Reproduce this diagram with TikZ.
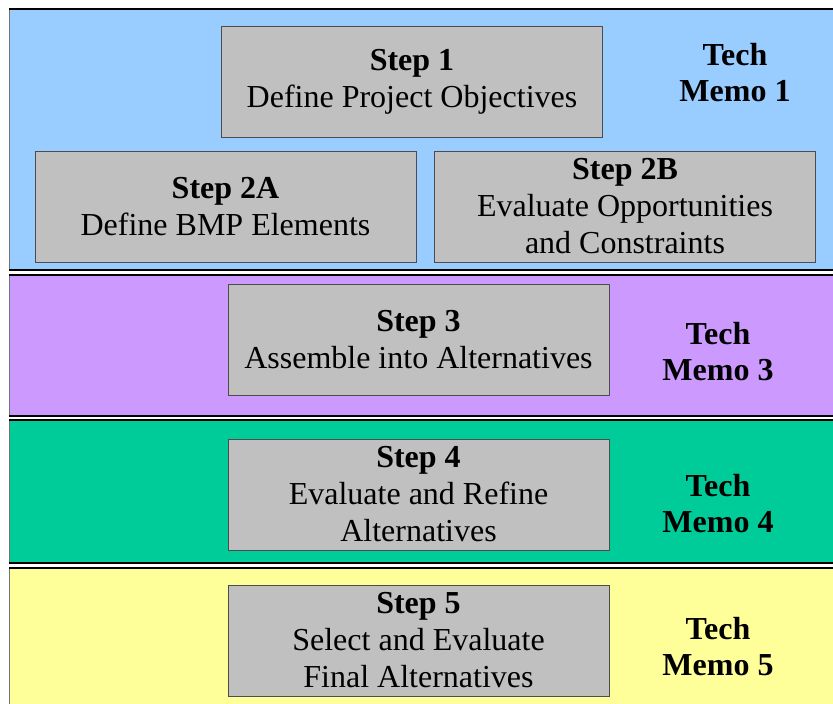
\documentclass[tikz,border=0pt]{standalone}
\usepackage{fontspec}
\setmainfont{Liberation Serif}
\definecolor{memoblue}{HTML}{99CCFF}
\definecolor{memopurple}{HTML}{CC99FF}
\definecolor{memogreen}{HTML}{00CC99}
\definecolor{memoyellow}{HTML}{FFFF99}
\definecolor{boxgray}{HTML}{C0C0C0}
\newcommand\band[3]{\fill[#3] (9,#1) rectangle (833,#2);
  \draw[black!55, line width=1pt] (9,#1) -- (9,#2);
  \draw[black, line width=1.6pt] (9,#1) -- (833,#1) (9,#2) -- (833,#2); }

\tikzset{
  stepbox/.style={draw=black!70, line width=1pt, fill=boxgray, inner sep=0pt,
    minimum width=381, minimum height=111, align=center,
    font=\fontsize{32}{37}\selectfont},
  memolabel/.style={align=center, font=\bfseries\fontsize{32}{36}\selectfont}
}

\begin{document}
\begin{tikzpicture}[x=1pt, y=-1pt]
    \useasboundingbox (0,0) rectangle (833,704);
    % bands
    \band{9}{270}{memoblue}
    \band{275}{416}{memopurple}
    \band{420}{563}{memogreen}
    \band{568}{706}{memoyellow}

    % tech memo 1
    \node[stepbox] (s1) at (412,81.5) {\textbf{Step 1}\\Define Project Objectives};
    \node[stepbox] (s2a) at (225.5,206.5) {\textbf{Step 2A}\\Define BMP Elements};
    \node[stepbox] (s2b) at (625,206.5) {\textbf{Step 2B}\\Evaluate Opportunities\\and Constraints};
    \node[memolabel] (m1) at (735,73) {Tech\\Memo 1};

    % tech memo 3
    \node[stepbox] (s3) at (418.5,339.5) {\textbf{Step 3}\\Assemble into Alternatives};
    \node[memolabel] (m3) at (718,352) {Tech\\Memo 3};

    % tech memo 4
    \node[stepbox] (s4) at (418.5,494.5) {\textbf{Step 4}\\Evaluate and Refine\\Alternatives};
    \node[memolabel] (m4) at (718,504) {Tech\\Memo 4};

    % tech memo 5
    \node[stepbox] (s5) at (418.5,640.5) {\textbf{Step 5}\\Select and Evaluate\\Final Alternatives};
    \node[memolabel] (m5) at (718,647) {Tech\\Memo 5};
\end{tikzpicture}
\end{document}
